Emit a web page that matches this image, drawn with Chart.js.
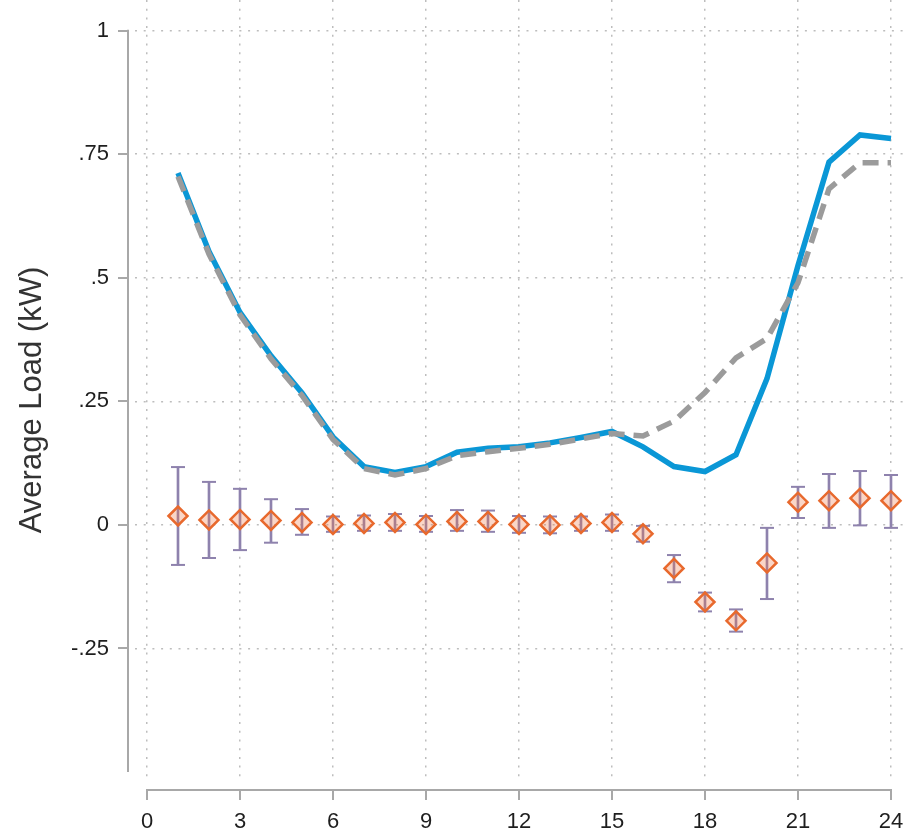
<!DOCTYPE html>
<html>
<head>
<meta charset="utf-8">
<script src="https://cdn.jsdelivr.net/npm/chart.js@4.4.1/dist/chart.umd.min.js"></script>
<style>
html,body{margin:0;padding:0;background:#fff;}
#wrap{width:905px;height:833px;position:relative;}
</style>
</head>
<body>
<div id="wrap"><canvas id="c" width="905" height="833"></canvas></div>
<script>
// ---- data ----
const hours = [1,2,3,4,5,6,7,8,9,10,11,12,13,14,15,16,17,18,19,20,21,22,23,24];
const treatedLoad = [0.712,0.553,0.43,0.342,0.267,0.178,0.118,0.106,0.118,0.147,0.155,0.158,0.166,0.177,0.189,0.158,0.118,0.108,0.142,0.296,0.525,0.734,0.789,0.782];
const controlLoad = [0.705,0.548,0.425,0.336,0.262,0.173,0.114,0.101,0.114,0.140,0.148,0.155,0.163,0.174,0.185,0.180,0.210,0.268,0.338,0.377,0.490,0.680,0.733,0.733];
const effect      = [0.018,0.010,0.011,0.009,0.005,0.001,0.003,0.005,0.001,0.007,0.007,0.001,0.000,0.003,0.005,-0.018,-0.088,-0.156,-0.194,-0.077,0.046,0.049,0.054,0.049];
const effectLow   = [-0.081,-0.067,-0.051,-0.036,-0.020,-0.014,-0.012,-0.012,-0.014,-0.012,-0.014,-0.016,-0.017,-0.012,-0.012,-0.034,-0.116,-0.175,-0.216,-0.150,0.014,-0.006,-0.001,-0.006];
const effectHigh  = [0.117,0.087,0.073,0.052,0.032,0.017,0.019,0.022,0.018,0.030,0.029,0.018,0.017,0.017,0.021,-0.002,-0.061,-0.137,-0.171,-0.006,0.077,0.103,0.109,0.101];
const xTickValues = [0,3,6,9,12,15,18,21,24];
const xTickLabels = ['0','3','6','9','12','15','18','21','24'];
const yTickValues = [-0.25,0,0.25,0.5,0.75,1];
const yTickLabels = ['-.25','0','.25','.5','.75','1'];
const yAxisRange = [-0.5, 1];
const xAxisRange = [0, 24];
const yTitle = 'Average Load (kW)';

// ---- styling ----
const FONT = "'Liberation Sans', Arial, Helvetica, sans-serif";
const PURPLE = '#8e82ad';
const pts = (ys) => hours.map((h, i) => ({x: h, y: ys[i]}));
function zeroPadding() { this.paddingLeft = 0; this.paddingRight = 0; this.paddingTop = 0; this.paddingBottom = 0; }
const noPad = (s) => { s._calculatePadding = zeroPadding; };

const axisPlugin = {
  id: 'stataAxes',
  afterDraw(chart) {
    const {ctx, chartArea, scales: {x, y}} = chart;
    ctx.save();
    ctx.strokeStyle = '#a8a8a8';
    ctx.lineWidth = 2;
    ctx.lineCap = 'butt';
    const axX = chartArea.left - 7;
    ctx.beginPath();
    ctx.moveTo(axX, y.getPixelForValue(yAxisRange[1]) - 1);
    ctx.lineTo(axX, y.getPixelForValue(yAxisRange[0]));
    yTickValues.forEach(v => { const p = Math.round(y.getPixelForValue(v)); ctx.moveTo(axX - 10, p); ctx.lineTo(axX + 1, p); });
    const axY = chartArea.bottom + 9;
    ctx.moveTo(x.getPixelForValue(xAxisRange[0]) - 1, axY);
    ctx.lineTo(x.getPixelForValue(xAxisRange[1]) + 1, axY);
    xTickValues.forEach(v => { const p = Math.round(x.getPixelForValue(v)); ctx.moveTo(p, axY - 1); ctx.lineTo(p, axY + 10); });
    ctx.stroke();
    // y axis title
    ctx.translate(32, 400);
    ctx.rotate(-Math.PI / 2);
    ctx.fillStyle = '#333';
    ctx.font = '31px ' + FONT;
    ctx.textAlign = 'center';
    ctx.textBaseline = 'middle';
    ctx.fillText(yTitle, 0, 0);
    ctx.restore();
  }
};

new Chart(document.getElementById('c'), {
  type: 'line',
  data: {
    datasets: [
      {
        label: 'Control', data: pts(controlLoad), order: 0,
        borderColor: '#9b9b9b', borderWidth: 5.5, borderDash: [16, 9],
        pointRadius: 0, tension: 0, fill: false
      },
      {
        label: 'Treatment', data: pts(treatedLoad), order: 1,
        borderColor: '#0a97d6', borderWidth: 5.5, pointRadius: 0, tension: 0, fill: false
      },
      {
        label: 'Effect', data: pts(effect), order: 2, showLine: false,
        pointStyle: 'rectRot', pointRadius: 9.5, pointBorderWidth: 2.5,
        pointBackgroundColor: 'rgba(240,120,70,0.30)', pointBorderColor: '#e8692d'
      },
      {
        label: 'CI high', data: pts(effectHigh), order: 3, showLine: false,
        pointStyle: 'line', pointRadius: 7, pointBorderWidth: 2, pointBorderColor: PURPLE
      },
      {
        label: 'CI low', data: pts(effectLow), order: 3, showLine: false,
        pointStyle: 'line', pointRadius: 7, pointBorderWidth: 2, pointBorderColor: PURPLE
      },
      {
        type: 'bar', label: 'CI', order: 4,
        data: hours.map((h, i) => ({x: h, y: [effectLow[i], effectHigh[i]]})),
        backgroundColor: PURPLE, borderWidth: 0, barThickness: 2, grouped: false
      }
    ]
  },
  options: {
    responsive: false,
    animation: false,
    devicePixelRatio: 1,
    layout: {autoPadding: false, padding: {left: 0, right: 0, top: 0, bottom: 0}},
    plugins: {legend: {display: false}, tooltip: {enabled: false}, title: {display: false}},
    scales: {
      x: {
        type: 'linear', offset: false,
        min: -0.387, max: 24.452,
        beforeFit: noPad,
        afterBuildTicks: s => { s.ticks = xTickValues.map(v => ({value: v})); },
        afterFit: s => { s.height = 52; },
        ticks: {
          callback: (v, i) => xTickLabels[xTickValues.indexOf(v)],
          font: {size: 22, family: FONT}, color: '#1e1e1e', padding: 28,
          maxRotation: 0, autoSkip: false
        },
        grid: {color: '#bdbdbd', lineWidth: 1.5, drawTicks: false, offset: false},
        border: {display: false, dash: [2, 6.7]}
      },
      y: {
        type: 'linear', beginAtZero: false,
        min: -0.5182, max: 1.0621,
        beforeFit: noPad,
        afterBuildTicks: s => { s.ticks = yTickValues.map(v => ({value: v})); },
        afterFit: s => { s.width = 135; },
        ticks: {
          callback: (v, i) => yTickLabels[yTickValues.indexOf(v)],
          font: {size: 22, family: FONT}, color: '#1e1e1e', padding: 26, autoSkip: false
        },
        grid: {color: '#bdbdbd', lineWidth: 1.5, drawTicks: false, offset: false},
        border: {display: false, dash: [2, 6.7]}
      }
    }
  },
  plugins: [axisPlugin]
});
</script>
</body>
</html>
